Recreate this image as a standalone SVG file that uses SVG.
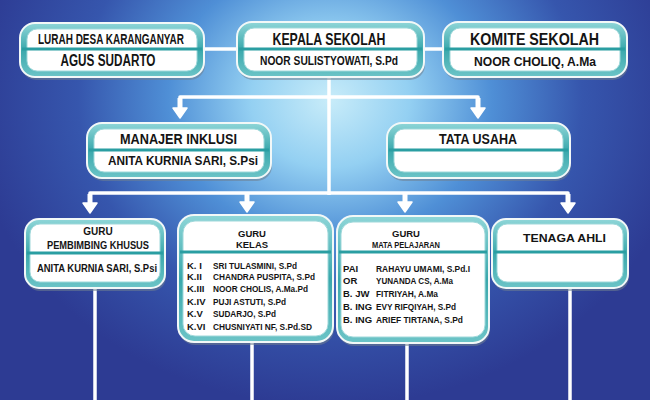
<svg xmlns="http://www.w3.org/2000/svg" width="650" height="400" viewBox="0 0 650 400">
<defs>
<radialGradient id="bg" cx="330" cy="100" r="360" gradientUnits="userSpaceOnUse" gradientTransform="translate(330 100) scale(1 0.85) translate(-330 -100)">
<stop offset="0" stop-color="#c8ecf9"/>
<stop offset="0.22" stop-color="#94d0f2"/>
<stop offset="0.45" stop-color="#4f8fd6"/>
<stop offset="0.7" stop-color="#3656ad"/>
<stop offset="1" stop-color="#2d3b93"/>
</radialGradient>
<linearGradient id="teal" x1="0" y1="0" x2="0" y2="1">
<stop offset="0" stop-color="#8fd6d8"/>
<stop offset="0.5" stop-color="#3aa8ac"/>
<stop offset="1" stop-color="#6cc4c7"/>
</linearGradient>
<path id="head" d="M-7,-10 L7,-10 L0,0 Z" fill="#ffffff" stroke="#ffffff" stroke-width="1.5" stroke-linejoin="round"/>
<style>
.outer{fill:url(#teal);stroke:#f2f8f8;stroke-width:2}
.shadow{fill:#6f7f90;opacity:0.55}
.inner{fill:#ffffff;stroke:#9fd8da;stroke-width:1}
.dv{stroke:#2a9ea2;stroke-width:3}
.ln{stroke:#ffffff;stroke-width:3.5;fill:none;stroke-linejoin:round}
.sh{stroke:#ffffff;stroke-width:5;fill:none}
text{font-family:"Liberation Sans Narrow","Liberation Sans",Arial,sans-serif;font-weight:bold;fill:#141414}
.c{text-anchor:middle}
</style>
</defs>
<rect x="0" y="0" width="650" height="400" fill="url(#bg)"/>

<g id="connectors">
<line class="ln" x1="203" y1="49" x2="238" y2="49"/>
<line class="ln" x1="423" y1="49" x2="444" y2="49"/>
<line class="ln" x1="329" y1="77" x2="329" y2="195"/>
<polyline class="ln" points="180,100 180,97 478,97 478,100"/>
<line class="sh" x1="180" y1="98" x2="180" y2="110"/>
<line class="sh" x1="478" y1="98" x2="478" y2="110"/>
<use href="#head" x="180" y="118"/>
<use href="#head" x="478" y="118"/>
<polyline class="ln" points="90,196 90,193 568,193 568,196"/>
<line class="sh" x1="90" y1="194" x2="90" y2="206"/>
<line class="sh" x1="247" y1="192" x2="247" y2="206"/>
<line class="sh" x1="405" y1="192" x2="405" y2="206"/>
<line class="sh" x1="568" y1="194" x2="568" y2="206"/>
<use href="#head" x="90" y="213"/>
<use href="#head" x="247" y="212"/>
<use href="#head" x="405" y="212"/>
<use href="#head" x="568" y="213"/>
<line class="ln" x1="95" y1="289" x2="95" y2="400"/>
<line class="ln" x1="252" y1="343" x2="252" y2="400"/>
<line class="ln" x1="407" y1="344" x2="407" y2="400"/>
<line class="ln" x1="570" y1="289" x2="570" y2="400"/>
</g>

<g id="lurah">
<rect class="shadow" x="21" y="26" width="184" height="54" rx="15"/>
<rect class="outer" x="20" y="23" width="184" height="54" rx="15"/>
<rect class="inner" x="27" y="29" width="170" height="42" rx="10"/>
<line class="dv" x1="22" y1="49" x2="202" y2="49"/>
<text class="c" x="111" y="44" font-size="14" textLength="146" lengthAdjust="spacingAndGlyphs">LURAH DESA KARANGANYAR</text>
<text class="c" x="108" y="66" font-size="16" textLength="95" lengthAdjust="spacingAndGlyphs">AGUS SUDARTO</text>
</g>

<g id="kepala">
<rect class="shadow" x="238" y="25" width="187" height="55" rx="15"/>
<rect class="outer" x="237" y="22" width="187" height="55" rx="15"/>
<rect class="inner" x="244" y="28" width="173" height="43" rx="10"/>
<line class="dv" x1="239" y1="49" x2="422" y2="49"/>
<text class="c" x="329" y="45" font-size="16.5" textLength="113" lengthAdjust="spacingAndGlyphs">KEPALA SEKOLAH</text>
<text class="c" x="329" y="65" font-size="12" textLength="138" lengthAdjust="spacingAndGlyphs">NOOR SULISTYOWATI, S.Pd</text>
</g>

<g id="komite">
<rect class="shadow" x="444" y="25" width="184" height="55" rx="15"/>
<rect class="outer" x="443" y="22" width="184" height="55" rx="15"/>
<rect class="inner" x="450" y="28" width="170" height="43" rx="10"/>
<line class="dv" x1="445" y1="49" x2="625" y2="49"/>
<text class="c" x="534.5" y="45" font-size="16.5" textLength="129" lengthAdjust="spacingAndGlyphs">KOMITE SEKOLAH</text>
<text class="c" x="535" y="66" font-size="13.5" textLength="122" lengthAdjust="spacingAndGlyphs">NOOR CHOLIQ, A.Ma</text>
</g>

<g id="manajer">
<rect class="shadow" x="88" y="126" width="184" height="55" rx="15"/>
<rect class="outer" x="87" y="123" width="184" height="55" rx="15"/>
<rect class="inner" x="94" y="129" width="170" height="43" rx="10"/>
<line class="dv" x1="89" y1="150" x2="269" y2="150"/>
<text class="c" x="178.5" y="144" font-size="14" textLength="117" lengthAdjust="spacingAndGlyphs">MANAJER INKLUSI</text>
<text class="c" x="183" y="165" font-size="12" textLength="150" lengthAdjust="spacingAndGlyphs">ANITA KURNIA SARI, S.Psi</text>
</g>

<g id="tatausaha">
<rect class="shadow" x="388" y="126" width="183" height="55" rx="15"/>
<rect class="outer" x="387" y="123" width="183" height="55" rx="15"/>
<rect class="inner" x="394" y="129" width="169" height="43" rx="10"/>
<line class="dv" x1="389" y1="150" x2="568" y2="150"/>
<text class="c" x="478" y="144" font-size="14" textLength="78" lengthAdjust="spacingAndGlyphs">TATA USAHA</text>
</g>

<g id="guru-pk">
<rect class="shadow" x="26" y="222" width="140" height="69" rx="14"/>
<rect class="outer" x="25" y="219" width="140" height="69" rx="14"/>
<rect class="inner" x="30" y="224" width="130" height="58" rx="10"/>
<line class="dv" x1="27" y1="253" x2="163" y2="253"/>
<text class="c" x="98" y="235" font-size="10">GURU</text>
<text class="c" x="98" y="249" font-size="10.5" textLength="102" lengthAdjust="spacingAndGlyphs">PEMBIMBING KHUSUS</text>
<text class="c" x="97" y="272" font-size="11.5" textLength="120" lengthAdjust="spacingAndGlyphs">ANITA KURNIA SARI, S.Psi</text>
</g>

<g id="guru-kelas">
<rect class="shadow" x="179" y="218" width="155" height="127" rx="16"/>
<rect class="outer" x="178" y="215" width="155" height="127" rx="16"/>
<rect class="inner" x="183" y="221" width="145" height="115" rx="12"/>
<line class="dv" x1="180" y1="252" x2="331" y2="252"/>
<text class="c" x="252" y="237" font-size="9.5">GURU</text>
<text class="c" x="252" y="248" font-size="9.5">KELAS</text>
<g font-size="9.5">
<text x="187" y="269">K. I</text><text x="213" y="269" textLength="84" lengthAdjust="spacingAndGlyphs">SRI TULASMINI, S.Pd</text>
<text x="187" y="280">K.II</text><text x="213" y="280" textLength="102" lengthAdjust="spacingAndGlyphs">CHANDRA PUSPITA, S.Pd</text>
<text x="187" y="292">K.III</text><text x="213" y="292" textLength="95" lengthAdjust="spacingAndGlyphs">NOOR CHOLIS, A.Ma.Pd</text>
<text x="187" y="305">K.IV</text><text x="213" y="305" textLength="73" lengthAdjust="spacingAndGlyphs">PUJI ASTUTI, S.Pd</text>
<text x="187" y="317">K.V</text><text x="213" y="317" textLength="63" lengthAdjust="spacingAndGlyphs">SUDARJO, S.Pd</text>
<text x="187" y="330">K.VI</text><text x="213" y="330" textLength="99" lengthAdjust="spacingAndGlyphs">CHUSNIYATI NF, S.Pd.SD</text>
</g>
</g>

<g id="guru-mapel">
<rect class="shadow" x="338" y="219" width="152" height="127" rx="16"/>
<rect class="outer" x="337" y="216" width="152" height="127" rx="16"/>
<rect class="inner" x="341" y="222" width="144" height="115" rx="12"/>
<line class="dv" x1="339" y1="252" x2="487" y2="252"/>
<text class="c" x="406" y="237" font-size="9.5">GURU</text>
<text class="c" x="406" y="248" font-size="9.5" textLength="68" lengthAdjust="spacingAndGlyphs">MATA PELAJARAN</text>
<g font-size="9.5">
<text x="343" y="272">PAI</text><text x="376" y="272" textLength="94" lengthAdjust="spacingAndGlyphs">RAHAYU UMAMI, S.Pd.I</text>
<text x="343" y="284">OR</text><text x="376" y="284" textLength="77" lengthAdjust="spacingAndGlyphs">YUNANDA CS, A.Ma</text>
<text x="343" y="297">B. JW</text><text x="376" y="297" textLength="62" lengthAdjust="spacingAndGlyphs">FITRIYAH, A.Ma</text>
<text x="343" y="310">B. ING</text><text x="376" y="310" textLength="80" lengthAdjust="spacingAndGlyphs">EVY RIFQIYAH, S.Pd</text>
<text x="343" y="323">B. ING</text><text x="376" y="323" textLength="87" lengthAdjust="spacingAndGlyphs">ARIEF TIRTANA, S.Pd</text>
</g>
</g>

<g id="tenaga-ahli">
<rect class="shadow" x="493" y="222" width="136" height="69" rx="14"/>
<rect class="outer" x="492" y="219" width="136" height="69" rx="14"/>
<rect class="inner" x="497" y="224" width="126" height="58" rx="10"/>
<line class="dv" x1="494" y1="252" x2="626" y2="252"/>
<text class="c" x="564.5" y="242" font-size="11.5" textLength="83" lengthAdjust="spacingAndGlyphs">TENAGA AHLI</text>
</g>
</svg>
